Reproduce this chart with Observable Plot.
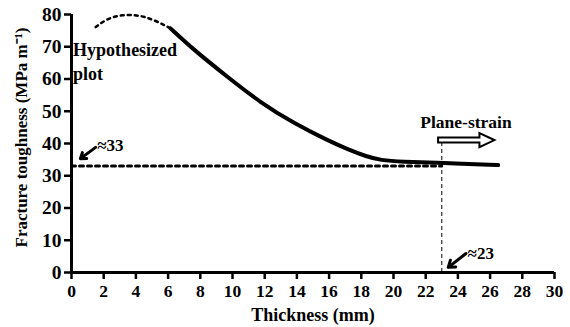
<!DOCTYPE html>
<html>
<head>
<meta charset="utf-8">
<script src="https://cdn.jsdelivr.net/npm/d3@7"></script>
<script src="https://cdn.jsdelivr.net/npm/@observablehq/plot@0.6"></script>
<style>
  html, body { margin: 0; padding: 0; background: #fff; }
  #chart svg { display: block; }
</style>
</head>
<body>
<div id="chart"></div>
<script>
// Hypothesized (dotted) part of the curve
const hypoX = [1.5, 2.2, 3.15, 4.2, 5.1, 6.15];
const hypoY = [76.1, 78.7, 80.0, 79.8, 78.4, 75.7];
// Measured (solid) part of the curve
const solidX = [6.15, 7.6, 9.7, 11.7, 13.8, 15.9, 17.3, 18.3, 19.2, 20.5, 23, 26.5];
const solidY = [75.7, 69.0, 60.6, 52.8, 46.3, 41.0, 37.9, 36.0, 34.8, 34.3, 34.0, 33.3];
// Plane-strain reference lines
const refLevel = 33;
const refX = [0, 23];
const thicknessLimit = 23;
const planeX = [22.8, 26.3];
const planeY = 40.9;
// Axis ticks
const xTicks = d3.range(0, 31, 2);
const yTicks = d3.range(0, 81, 10);
// Titles
const xTitle = "Thickness (mm)";
const yTitle = "Fracture toughness (MPa m⁻¹)";
// Annotations
const annoText = ["≈33", "≈23"];
const annoTextX = [1.6, 24.6];
const annoTextY = [39.4, 5.9];
const annoTailX = [1.5, 24.5];
const annoTailY = [38.8, 5.9];
const annoTipX = [0.55, 23.4];
const annoTipY = [35.3, 1.6];

const hypo = hypoX.map((x, i) => ({x, y: hypoY[i]}));
const solid = solidX.map((x, i) => ({x, y: solidY[i]}));
const ref = refX.map(x => ({x, y: refLevel}));
const anno = annoText.map((t, i) => ({t, x: annoTextX[i], y: annoTextY[i], x1: annoTailX[i], y1: annoTailY[i], x2: annoTipX[i], y2: annoTipY[i]}));

const font = "'Liberation Serif', 'Times New Roman', serif";

function hollowArrow(index, scales) {
  const x0 = scales.x(planeX[0]), x1 = scales.x(planeX[1]), y = scales.y(planeY);
  const hl = 15, sh = 2.5, hh = 7;
  const p = `M${x0},${y - sh}L${x1 - hl},${y - sh}L${x1 - hl},${y - hh}L${x1},${y}L${x1 - hl},${y + hh}L${x1 - hl},${y + sh}L${x0},${y + sh}Z`;
  const path = document.createElementNS("http://www.w3.org/2000/svg", "path");
  path.setAttribute("d", p);
  path.setAttribute("fill", "white");
  path.setAttribute("stroke", "black");
  path.setAttribute("stroke-width", "2");
  return path;
}

const chart = Plot.plot({
  width: 570,
  height: 327,
  marginLeft: 71,
  marginRight: 16,
  marginTop: 14,
  marginBottom: 55,
  style: {fontWeight: "bold", fontSize: "17px", color: "black", background: "white"},
  x: {domain: [0, 30]},
  y: {domain: [0, 80]},
  marks: [
    Plot.axisX({ticks: xTicks, tickSize: 7, tickPadding: 5, strokeWidth: 2.5, fontSize: 17.5, fontWeight: "bold", label: null}),
    Plot.axisY({ticks: yTicks, tickSize: 7, tickPadding: 3, strokeWidth: 2.5, fontSize: 19.5, fontWeight: "bold", label: null}),
    Plot.text([xTitle], {frameAnchor: "bottom", dy: 48, fontSize: 18, fontWeight: "bold"}),
    Plot.text([yTitle], {frameAnchor: "left", textAnchor: "middle", dx: -50, dy: -6, rotate: -90, fontSize: 17, fontWeight: "bold"}),
    Plot.line(ref, {x: "x", y: "y", stroke: "black", strokeWidth: 3, strokeDasharray: "4,4"}),
    Plot.ruleX([thicknessLimit], {y1: 0, y2: planeY, stroke: "black", strokeWidth: 1, strokeDasharray: "4,3"}),
    Plot.line(hypo, {x: "x", y: "y", curve: "basis", stroke: "black", strokeWidth: 2.5, strokeDasharray: "3,4"}),
    Plot.line(solid, {x: "x", y: "y", curve: "basis", stroke: "black", strokeWidth: 4}),
    hollowArrow,
    Plot.text(["Plane-strain"], {x: 24.5, y: 46.5, fontSize: 17.5, fontWeight: "bold"}),
    Plot.text(["Hypothesized\nplot"], {x: 0.1, y: 69.5, textAnchor: "start", lineAnchor: "top", dy: -10, lineHeight: 1.35, fontSize: 18, fontWeight: "bold"}),
    Plot.arrow(anno, {x1: "x1", y1: "y1", x2: "x2", y2: "y2", stroke: "black", strokeWidth: 3, headLength: 8, headAngle: 70}),
    Plot.text(anno, {x: "x", y: "y", text: "t", textAnchor: "start", fontSize: 17, fontWeight: "bold"}),
    Plot.ruleY([0], {stroke: "black", strokeWidth: 3}),
    Plot.ruleX([0], {stroke: "black", strokeWidth: 3})
  ]
});
chart.setAttribute("font-family", font);
chart.style.fontFamily = font;
chart.querySelectorAll("g, text").forEach(el => {
  el.removeAttribute("font-family");
  el.style.fontFamily = font;
});
document.getElementById("chart").append(chart);
</script>
</body>
</html>
